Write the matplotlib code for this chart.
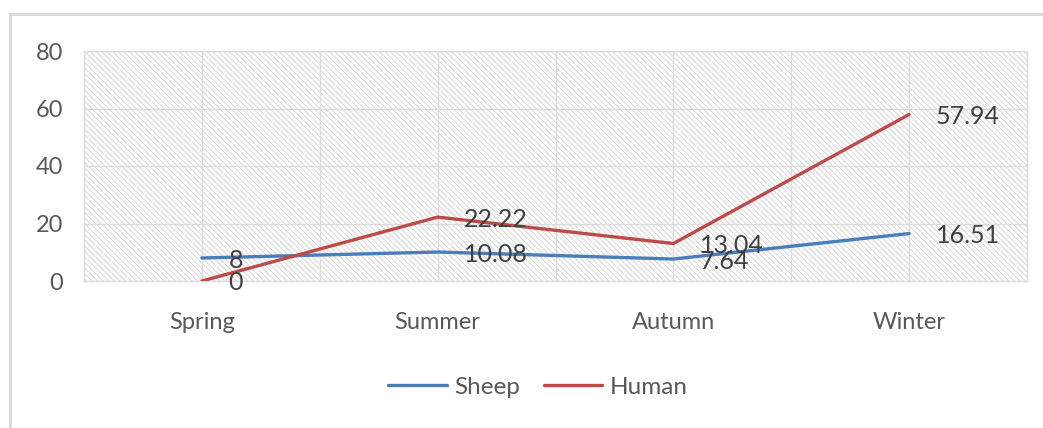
import matplotlib
matplotlib.use("Agg")
import matplotlib.pyplot as plt
from matplotlib.lines import Line2D
from matplotlib.patches import Rectangle

categories = ["Spring", "Summer", "Autumn", "Winter"]
sheep = [8, 10.08, 7.64, 16.51]
human = [0, 22.22, 13.04, 57.94]
sheep_labels = ["8", "10.08", "7.64", "16.51"]
human_labels = ["0", "22.22", "13.04", "57.94"]
yticks = [0, 20, 40, 60, 80]

plt.rcParams['font.family'] = ['Lato', 'DejaVu Sans']
plt.rcParams['hatch.linewidth'] = 0.6

W, H = 1043, 428
fig = plt.figure(figsize=(W/100, H/100), dpi=100)
ax = fig.add_axes([84/W, 1-281/H, (1027-84)/W, (281-51)/H])

x = list(range(len(categories)))
ax.add_patch(Rectangle((0, 0), 1, 1, transform=ax.transAxes, facecolor='white',
                       edgecolor='#cfcfcf', linewidth=0, hatch='\\' * 6, zorder=0))
ax.set_xlim(-0.5, 3.5)
ax.set_ylim(0, 80)
ax.set_yticks(yticks)
ax.set_xticks(x)
ax.set_xticklabels(categories)
ax.set_xticks([i + 0.5 for i in range(-1, 4)], minor=True)
ax.grid(True, which='both', axis='x', color='#dcdcdc', lw=1, zorder=1)
ax.grid(True, which='major', axis='y', color='#dcdcdc', lw=1, zorder=1)
ax.set_axisbelow(True)
ax.tick_params(axis='both', which='both', length=0)
ax.tick_params(axis='y', labelsize=17, labelcolor='#595959', pad=15)
ax.tick_params(axis='x', labelsize=17, labelcolor='#595959', pad=22)
for s in ax.spines.values():
    s.set_color('#dcdcdc')
    s.set_linewidth(1)

l1, = ax.plot(x, sheep, color='#4a7ebb', lw=2.4, label='Sheep', zorder=3, solid_capstyle='round')
l2, = ax.plot(x, human, color='#be4b48', lw=2.4, label='Human', zorder=3, solid_capstyle='round')

for xi, v, t in zip(x, sheep, sheep_labels):
    ax.annotate(t, (xi, v), xytext=(19, 0), textcoords='offset points',
                ha='left', va='center_baseline', fontsize=18, color='#404040', zorder=4)
for xi, v, t in zip(x, human, human_labels):
    ax.annotate(t, (xi, v), xytext=(19, 0), textcoords='offset points',
                ha='left', va='center_baseline', fontsize=18, color='#404040', zorder=4)

fig.legend(handles=[l1, l2], loc='center', bbox_to_anchor=(538/W, 1-387/H),
           ncol=2, frameon=False, fontsize=17.5, handlelength=2.4,
           columnspacing=1.0, handletextpad=0.3, labelcolor='#595959')

fig.add_artist(Line2D([10/W, 10/W], [0, 1-14/H], transform=fig.transFigure,
                      color='#d9d9d9', lw=2))
fig.add_artist(Line2D([10/W, 1], [1-14/H, 1-14/H], transform=fig.transFigure,
                      color='#d9d9d9', lw=2))

fig.savefig('out.png', dpi=100)
